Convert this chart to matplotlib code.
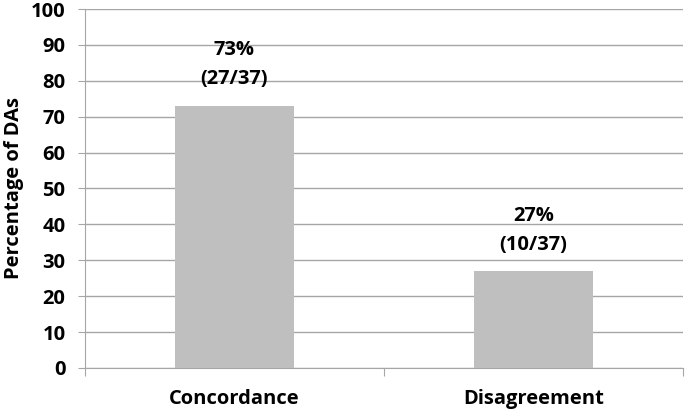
import matplotlib
matplotlib.use("Agg")
import matplotlib.pyplot as plt

# Data
categories = ["Concordance", "Disagreement"]
percentages = [73, 27]
counts = ["(27/37)", "(10/37)"]

plt.rcParams['font.family'] = ['Open Sans', 'DejaVu Sans']

fig = plt.figure(figsize=(6.85, 4.12), dpi=100)
ax = fig.add_axes([0.124, 0.107, 0.873, 0.871])

x = range(len(categories))
bars = ax.bar(x, percentages, width=0.4, color='#BFBFBF', zorder=3)

# value labels above bars
for xi, p, c in zip(x, percentages, counts):
    ax.text(xi, p + 4.6, f"{p}%\n{c}", ha='center', va='bottom',
            fontsize=14.5, fontweight='bold', linespacing=1.6, zorder=4)

ax.set_xlim(-0.5, 1.5)
ax.set_ylim(0, 100)
ax.set_yticks(range(0, 101, 10))
ax.set_xticks([-0.5, 0.5, 1.5], minor=False)
ax.set_xticklabels(['', '', ''])
ax.set_xticks(list(x), minor=True)
ax.set_xticklabels(categories, minor=True)

ax.yaxis.grid(True, color='#A6A6A6', linewidth=1, zorder=0)
ax.tick_params(axis='y', length=5, color='#A6A6A6', labelsize=14.5, pad=9)
ax.tick_params(axis='x', which='major', length=6, color='#A6A6A6', direction='out')
ax.tick_params(axis='x', which='minor', length=0, labelsize=14.5, pad=15)
for lbl in ax.get_yticklabels() + ax.get_xticklabels(minor=True):
    lbl.set_fontweight('bold')

for side in ['top', 'right']:
    ax.spines[side].set_visible(False)
for side in ['left', 'bottom']:
    ax.spines[side].set_color('#A6A6A6')

ax.set_ylabel("Percentage of DAs", fontsize=14.5, fontweight='bold', labelpad=5)

fig.savefig("out.png", dpi=100)
